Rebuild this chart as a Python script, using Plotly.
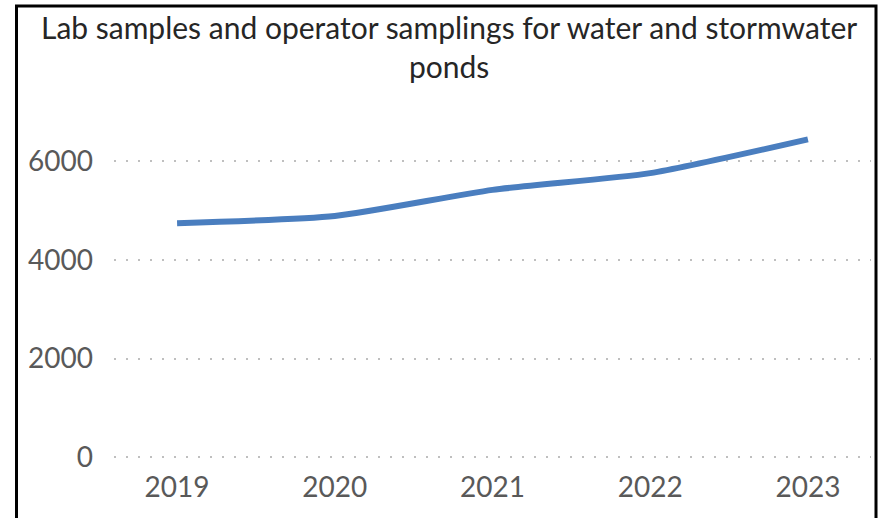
import plotly.graph_objects as go

years = ["2019", "2020", "2021", "2022", "2023"]
samples = [4745, 4890, 5420, 5760, 6445]
y_ticks = [0, 2000, 4000, 6000]

W, H = 881, 518
Y_LO, Y_HI = -200, 7000
PX_PER_UNIT = 0.0494
ZERO_PX = 457.5
L, R = 114, 871
T = ZERO_PX - Y_HI * PX_PER_UNIT
B = ZERO_PX - Y_LO * PX_PER_UNIT
pw, ph = R - L, B - T

def px_x(p):
    return (p - L) / pw

def px_y(p):
    return (B - p) / ph

fig = go.Figure()
fig.add_trace(go.Scatter(
    x=list(range(len(years))), y=samples, mode="lines",
    line=dict(color="#4a7ebf", width=6, shape="spline", smoothing=0.6),
    hoverinfo="skip", showlegend=False,
))

font_fam = "Lato, Carlito, 'Open Sans', sans-serif"
fig.update_layout(
    width=W, height=H,
    margin=dict(l=L, r=W - R, t=T, b=H - B, autoexpand=False),
    paper_bgcolor="white", plot_bgcolor="white",
    font=dict(family=font_fam, color="#595959"),
    xaxis=dict(
        range=[-0.4, 4.4], tickmode="array",
        tickvals=list(range(len(years))), ticktext=years,
        showgrid=False, zeroline=False, showline=False, ticks="",
        tickfont=dict(size=28, color="#595959"),
        ticklabelstandoff=1,
    ),
    yaxis=dict(
        range=[Y_LO, Y_HI], tickmode="array", tickvals=y_ticks,
        ticktext=[str(v) for v in y_ticks],
        showgrid=True, gridcolor="#bfbfbf", gridwidth=2, griddash="2px,10px",
        zeroline=False, showline=False, ticks="",
        tickfont=dict(size=28, color="#595959"),
        ticklabelstandoff=20,
    ),
    annotations=[dict(
        text="Lab samples and operator samplings for water and stormwater<br>ponds",
        xref="paper", yref="paper", x=px_x(449), y=px_y(6),
        xanchor="center", yanchor="top", showarrow=False, align="center",
        font=dict(size=30, color="#262626", family=font_fam),
    )],
    shapes=[dict(
        type="rect", xref="paper", yref="paper",
        x0=px_x(16.5), x1=px_x(876), y0=px_y(540), y1=px_y(5.5),
        line=dict(color="black", width=3), fillcolor="rgba(0,0,0,0)",
        layer="above",
    )],
)

fig.write_html("out.html", config={"displayModeBar": False},
               post_script="document.body.style.margin='0';")
